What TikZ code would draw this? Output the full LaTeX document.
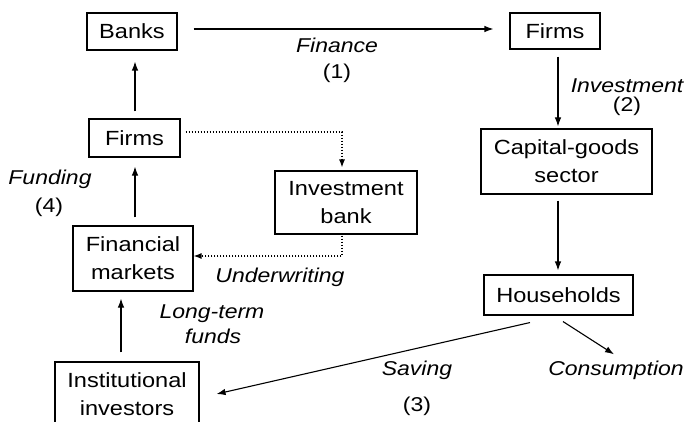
\documentclass[tikz,border=0pt]{standalone}
\usepackage{fontspec}
\setmainfont{Liberation Sans}[FakeStretch=1.15]
\usetikzlibrary{arrows.meta,calc}
\newcommand{\bxfont}{\fontsize{20.5}{28}\selectfont}
\newcommand{\lbfont}{\fontsize{20}{24}\selectfont\itshape}
\newcommand{\nbfont}{\fontsize{20}{24}\selectfont\upshape}
\begin{document}
\begin{tikzpicture}[x=1pt,y=-1pt,
  box/.style={draw, line width=1.1pt, inner sep=0pt, align=center, font=\bxfont},
  lbl/.style={font=\lbfont, anchor=base, inner sep=0pt},
  nbl/.style={font=\nbfont, anchor=base, inner sep=0pt},
  arr/.style={line width=1.1pt, -{Latex[length=9pt,width=6.5pt]}},
  dotarr/.style={line width=1.2pt, dash pattern=on 1.2pt off 1.8pt, -{Latex[length=8pt,width=6pt]}}]
\clip (0,0) rectangle (692,422);
% boxes
\node[box, minimum width=90pt, minimum height=37pt] (banks) at (132,31.5) {Banks};
\node[box, minimum width=90pt, minimum height=36pt] (firmsR) at (555,31) {Firms};
\node[box, minimum width=91pt, minimum height=38pt] (firmsL) at (134.5,138) {Firms};
\node[box, minimum width=142pt, minimum height=63pt] (ib) at (346,202.5) {Investment\\bank};
\node[box, minimum width=171pt, minimum height=65pt] (cg) at (566.5,161.5) {Capital-goods\\sector};
\node[box, minimum width=120pt, minimum height=65pt] (fm) at (133,258.5) {Financial\\markets};
\node[box, minimum width=149pt, minimum height=40pt] (hh) at (558.5,295) {Households};
\node[box, minimum width=144pt, minimum height=64pt] (ii) at (127,394) {Institutional\\investors};
% labels
\node[lbl] (fin) at (337,53) {Finance};
\node[nbl] (n1) at (337,79) {(1)};
\node[lbl] (inv) at (627,93) {Investment};
\node[nbl] (n2) at (627,112) {(2)};
\node[lbl] (fund) at (50,184) {Funding};
\node[nbl] (n4) at (49,212) {(4)};
\node[lbl] (uw) at (280,282) {Underwriting};
\node[lbl] (lt) at (212,318) {Long-term};
\node[lbl] (lt2) at (213,343) {funds};
\node[lbl] (sav) at (417,375) {Saving};
\node[nbl] (n3) at (417,411) {(3)};
\node[lbl] (cons) at (616,375) {Consumption};
% connectors
\draw[arr] ($(banks.east)+(16,-2.5)$) -- ($(firmsR.west)+(-16,-2)$);
\draw[arr] ($(firmsR.south)+(3,7)$) -- ($(cg.north -| firmsR.south)+(3,-2)$);
\draw[arr] ($(cg.south)+(-8.5,6)$) -- ($(hh.north)+(-0.5,-4)$);
\draw[arr] ($(hh.south)+(-28.5,7)$) -- ($(ii.east)+(17,0)$);
\draw[arr] ($(hh.south)+(4.5,6)$) -- ($(cons.north)+(-2,-6)$);
\draw[arr] ($(firmsL.north)+(0.5,-7)$) -- ($(banks.south -| firmsL.north)+(0.5,11)$);
\draw[arr] ($(fm.north)+(2,-8)$) -- ($(fm.north |- firmsL.south)+(2,9)$);
\draw[arr] ($(ii.north)+(-6,-9)$) -- ($(ii.north |- fm.south)+(-6,7)$);
\draw[dotarr] ($(firmsL.east)+(5,-6)$) -| ($(ib.north)+(-4,-3)$);
\draw[dotarr] ($(ib.south)+(-4,1)$) |- ($(fm.east)+(0,-2.5)$);
\end{tikzpicture}
\end{document}
